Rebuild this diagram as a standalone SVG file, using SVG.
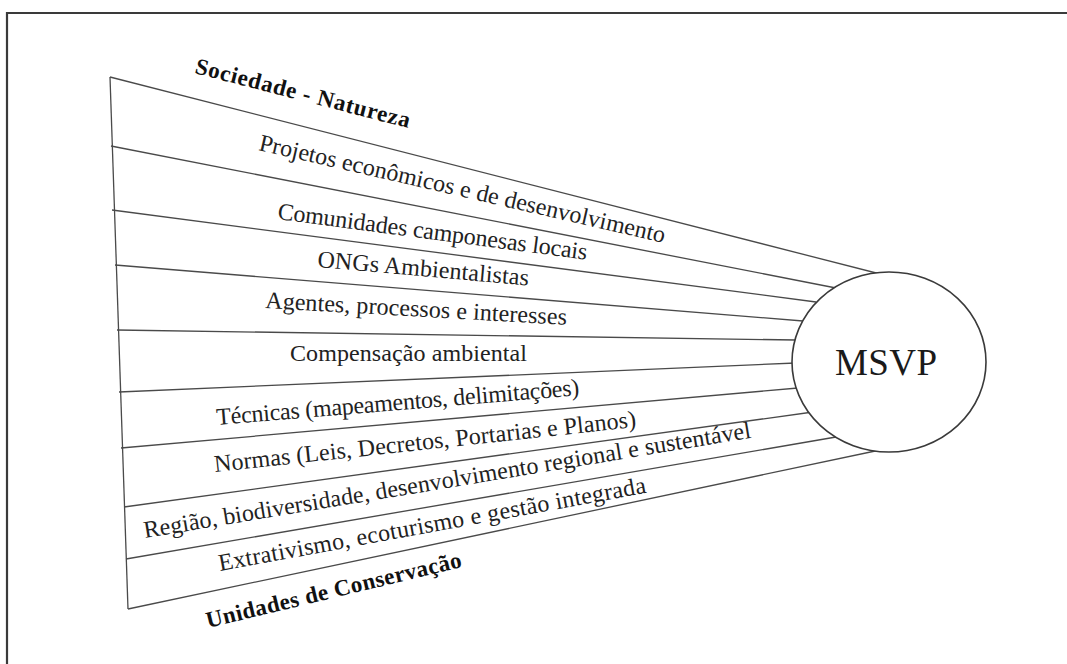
<svg xmlns="http://www.w3.org/2000/svg" width="1067" height="664" viewBox="0 0 1067 664">
  <style>
    .frame { fill: none; stroke: #3a3a3a; stroke-width: 2.2; }
    .ray { fill: none; stroke: #4a4a4a; stroke-width: 1.3; }
    .hub { fill: #ffffff; stroke: #3a3a3a; stroke-width: 1.6; }
    .lbl { font-family: "Liberation Serif", "DejaVu Serif", serif; font-size: 24px; fill: #222222; }
    .head { font-family: "Liberation Serif", "DejaVu Serif", serif; font-size: 23px; font-weight: bold; fill: #111111; }
    .core { font-family: "Liberation Serif", "DejaVu Serif", serif; font-size: 37px; fill: #1a1a1a; }
  </style>
  <rect x="0" y="0" width="1067" height="664" fill="#ffffff"/>
  <!-- page frame: top and left edges only -->
  <path class="frame" d="M7,664 V13 H1067"/>

  <g id="connectors">
    <!-- left closing edge of the fan -->
    <line class="ray" x1="110" y1="77" x2="128" y2="609"/>
    <line class="ray" x1="110" y1="77" x2="888" y2="276"/>
    <line class="ray" x1="111" y1="146" x2="836" y2="288"/>
    <line class="ray" x1="112" y1="210" x2="816" y2="302"/>
    <line class="ray" x1="115" y1="265" x2="803" y2="321"/>
    <line class="ray" x1="117" y1="330" x2="796" y2="340"/>
    <line class="ray" x1="119" y1="392" x2="796" y2="363"/>
    <line class="ray" x1="121" y1="448" x2="798" y2="388"/>
    <line class="ray" x1="124" y1="507" x2="813" y2="412"/>
    <line class="ray" x1="126" y1="559" x2="836" y2="437"/>
    <line class="ray" x1="128" y1="609" x2="880" y2="450"/>
  </g>

  <g id="node-msvp">
    <ellipse class="hub" cx="889" cy="362" rx="97" ry="90"/>
    <text class="core" x="886" y="375" text-anchor="middle" textLength="102">MSVP</text>
  </g>

  <g id="node-sociedade-natureza">
    <text class="head" transform="translate(194,73) rotate(14.4)" textLength="221">Sociedade - Natureza</text>
  </g>
  <g id="node-projetos">
    <text class="lbl" transform="translate(258,150) rotate(12.9)" textLength="416">Projetos econômicos e de desenvolvimento</text>
  </g>
  <g id="node-comunidades">
    <text class="lbl" transform="translate(277,219) rotate(7.5)" textLength="312">Comunidades camponesas locais</text>
  </g>
  <g id="node-ongs">
    <text class="lbl" transform="translate(317,267) rotate(5)" textLength="212">ONGs Ambientalistas</text>
  </g>
  <g id="node-agentes">
    <text class="lbl" transform="translate(265,308) rotate(3.2)" textLength="302">Agentes, processos e interesses</text>
  </g>
  <g id="node-compensacao">
    <text class="lbl" transform="translate(290,361) rotate(0)" textLength="237">Compensação ambiental</text>
  </g>
  <g id="node-tecnicas">
    <text class="lbl" transform="translate(217,425) rotate(-4.7)" textLength="364">Técnicas (mapeamentos, delimitações)</text>
  </g>
  <g id="node-normas">
    <text class="lbl" transform="translate(215,472) rotate(-6.1)" textLength="424">Normas (Leis, Decretos, Portarias e Planos)</text>
  </g>
  <g id="node-regiao">
    <text class="lbl" transform="translate(145,538) rotate(-9.4)" textLength="615">Região, biodiversidade, desenvolvimento regional e sustentável</text>
  </g>
  <g id="node-extrativismo">
    <text class="lbl" transform="translate(220,571) rotate(-10.4)" textLength="434">Extrativismo, ecoturismo e gestão integrada</text>
  </g>
  <g id="node-unidades">
    <text class="head" transform="translate(208,628) rotate(-13.5)" textLength="262">Unidades de Conservação</text>
  </g>
</svg>
